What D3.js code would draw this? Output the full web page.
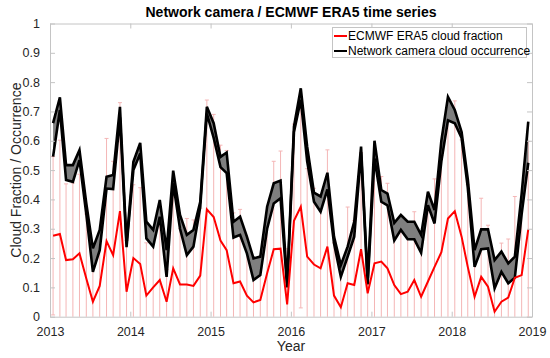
<!DOCTYPE html>
<html>
<head>
<meta charset="utf-8">
<script src="https://cdn.jsdelivr.net/npm/d3@7"></script>
<style>
body { margin: 0; background: #fff; }
text { font-family: "Liberation Sans", Arial, sans-serif; }
</style>
</head>
<body>
<div class="container"></div>
<script>
const width = 550,
    height = 358,
    margin = {top: 23.5, right: 18, bottom: 41.3, left: 50};

// monthly values, Jan 2013 .. Dec 2018
const months = d3.range(72).map(i => new Date(2013, i, 15));

const era5 = [
    0.276, 0.282, 0.193, 0.196, 0.216, 0.130, 0.051, 0.105, 0.258, 0.210, 0.360, 0.085,
    0.200, 0.180, 0.072, 0.100, 0.125, 0.051, 0.165, 0.110, 0.110, 0.105, 0.140, 0.366,
    0.340, 0.260, 0.227, 0.114, 0.120, 0.072, 0.049, 0.057, 0.148, 0.230, 0.232, 0.042,
    0.327, 0.375, 0.205, 0.178, 0.165, 0.239, 0.072, 0.032, 0.114, 0.108, 0.230, 0.080,
    0.182, 0.188, 0.165, 0.108, 0.077, 0.085, 0.125, 0.068, 0.120, 0.170, 0.220, 0.335,
    0.360, 0.273, 0.170, 0.068, 0.136, 0.102, 0.017, 0.051, 0.065, 0.133, 0.142, 0.298
];

const era5Std = [
    0.27, 0.32, 0.26, 0.26, 0.27, 0.22, 0.12, 0.155, 0.35, 0.32, 0.37, 0.175,
    0.25, 0.26, 0.18, 0.18, 0.205, 0.11, 0.285, 0.19, 0.225, 0.225, 0.23, 0.373,
    0.35, 0.325, 0.34, 0.24, 0.246, 0.18, 0.09, 0.11, 0.18, 0.30, 0.333, 0.19,
    0.33, 0.345, 0.30, 0.26, 0.25, 0.33, 0.18, 0.12, 0.26, 0.22, 0.33, 0.12,
    0.33, 0.29, 0.29, 0.21, 0.22, 0.22, 0.233, 0.20, 0.28, 0.30, 0.33, 0.38,
    0.376, 0.33, 0.28, 0.17, 0.268, 0.21, 0.18, 0.20, 0.20, 0.277, 0.25, 0.30
];

const camHigh = [
    0.660, 0.748, 0.517, 0.517, 0.568, 0.386, 0.233, 0.296, 0.477, 0.483, 0.716, 0.250,
    0.528, 0.593, 0.324, 0.296, 0.398, 0.227, 0.498, 0.347, 0.279, 0.296, 0.392, 0.716,
    0.660, 0.545, 0.560, 0.324, 0.341, 0.273, 0.199, 0.205, 0.375, 0.455, 0.464, 0.115,
    0.648, 0.779, 0.580, 0.423, 0.410, 0.491, 0.273, 0.176, 0.239, 0.324, 0.580, 0.125,
    0.600, 0.432, 0.420, 0.320, 0.347, 0.324, 0.324, 0.279, 0.426, 0.364, 0.600, 0.750,
    0.705, 0.630, 0.470, 0.227, 0.298, 0.298, 0.193, 0.222, 0.182, 0.205, 0.420, 0.665
];

const camLow = [
    0.546, 0.705, 0.466, 0.460, 0.534, 0.350, 0.153, 0.227, 0.437, 0.435, 0.680, 0.237,
    0.500, 0.557, 0.267, 0.239, 0.341, 0.136, 0.455, 0.300, 0.210, 0.239, 0.375, 0.693,
    0.610, 0.510, 0.490, 0.270, 0.279, 0.216, 0.125, 0.142, 0.300, 0.386, 0.404, 0.100,
    0.630, 0.740, 0.530, 0.392, 0.358, 0.434, 0.250, 0.136, 0.205, 0.273, 0.560, 0.110,
    0.540, 0.392, 0.380, 0.260, 0.296, 0.264, 0.264, 0.218, 0.380, 0.318, 0.530, 0.670,
    0.660, 0.610, 0.440, 0.170, 0.230, 0.233, 0.097, 0.153, 0.114, 0.133, 0.350, 0.525
];

const yearTicks = d3.range(2013, 2020).map(y => new Date(y, 0, 1));
const yTicks = d3.range(0, 11).map(d => d / 10);

const svg = d3.select('.container')
    .append('svg')
    .attr('width', width)
    .attr('height', height);

const x = d3.scaleTime()
    .domain([new Date(2013, 0, 1), new Date(2019, 0, 1)])
    .range([margin.left, width - margin.right]);

const y = d3.scaleLinear()
    .domain([0, 1])
    .range([height - margin.bottom, margin.top]);

svg.append('clipPath')
    .attr('id', 'plot-clip')
    .append('rect')
    .attr('x', margin.left)
    .attr('y', margin.top)
    .attr('width', width - margin.left - margin.right)
    .attr('height', height - margin.top - margin.bottom);

const plot = svg.append('g').attr('clip-path', 'url(#plot-clip)');

// error bars of the ERA5 series
const bars = plot.append('g')
    .attr('stroke', '#f4b6b6')
    .attr('stroke-width', 1)
    .selectAll('g')
    .data(months)
    .enter()
    .append('g');

bars.append('line')
    .attr('x1', d => x(d))
    .attr('x2', d => x(d))
    .attr('y1', (d, i) => y(era5[i] - era5Std[i]))
    .attr('y2', (d, i) => y(era5[i] + era5Std[i]));

bars.append('line')
    .attr('x1', d => x(d) - 2)
    .attr('x2', d => x(d) + 2)
    .attr('y1', (d, i) => y(era5[i] + era5Std[i]))
    .attr('y2', (d, i) => y(era5[i] + era5Std[i]));

bars.append('line')
    .attr('x1', d => x(d) - 2)
    .attr('x2', d => x(d) + 2)
    .attr('y1', (d, i) => y(era5[i] - era5Std[i]))
    .attr('y2', (d, i) => y(era5[i] - era5Std[i]));

// camera band
plot.append('path')
    .datum(months)
    .attr('fill', '#7f7f7f')
    .attr('d', d3.area()
        .x(d => x(d))
        .y0((d, i) => y(camLow[i]))
        .y1((d, i) => y(camHigh[i])));

[camHigh, camLow].forEach(series => {
    plot.append('path')
        .datum(months)
        .attr('fill', 'none')
        .attr('stroke', '#000')
        .attr('stroke-width', 2.6)
        .attr('stroke-linejoin', 'miter')
        .attr('d', d3.line()
            .x(d => x(d))
            .y((d, i) => y(series[i])));
});

plot.append('path')
    .datum(months)
    .attr('fill', 'none')
    .attr('stroke', '#ff0000')
    .attr('stroke-width', 2)
    .attr('d', d3.line()
        .x(d => x(d))
        .y((d, i) => y(era5[i])));

// axes (box with inward ticks)
const axisColor = '#c4c4c4',
    textColor = '#262626';

function styleAxis(g, showText) {
    g.select('.domain').attr('stroke', axisColor);
    g.selectAll('.tick line').attr('stroke', axisColor);
    g.selectAll('.tick text')
        .attr('fill', textColor)
        .style('font-size', '12.5px')
        .style('display', showText ? null : 'none');
}

svg.append('g')
    .attr('transform', `translate(0,${height - margin.bottom})`)
    .call(d3.axisBottom(x).tickValues(yearTicks).tickFormat(d3.timeFormat('%Y'))
        .tickSizeInner(-5).tickSizeOuter(0).tickPadding(10))
    .call(g => styleAxis(g, true));

svg.append('g')
    .attr('transform', `translate(0,${margin.top})`)
    .call(d3.axisTop(x).tickValues(yearTicks).tickSizeInner(-5).tickSizeOuter(0))
    .call(g => styleAxis(g, false));

svg.append('g')
    .attr('transform', `translate(${margin.left},0)`)
    .call(d3.axisLeft(y).tickValues(yTicks).tickFormat(d => d3.format('~g')(d))
        .tickSizeInner(-5).tickSizeOuter(0).tickPadding(10))
    .call(g => styleAxis(g, true));

svg.append('g')
    .attr('transform', `translate(${width - margin.right},0)`)
    .call(d3.axisRight(y).tickValues(yTicks).tickSizeInner(-5).tickSizeOuter(0))
    .call(g => styleAxis(g, false));

svg.selectAll('.tick text').attr('font-family', null);

// labels
svg.append('text')
    .attr('x', (margin.left + width - margin.right) / 2)
    .attr('y', 17)
    .attr('text-anchor', 'middle')
    .style('font-size', '14px')
    .style('font-weight', 'bold')
    .attr('fill', '#000')
    .text('Network camera / ECMWF ERA5 time series');

svg.append('text')
    .attr('x', (margin.left + width - margin.right) / 2)
    .attr('y', 351)
    .attr('text-anchor', 'middle')
    .style('font-size', '14px')
    .attr('fill', textColor)
    .text('Year');

svg.append('text')
    .attr('transform', `translate(21,${(margin.top + height - margin.bottom) / 2}) rotate(-90)`)
    .attr('text-anchor', 'middle')
    .style('font-size', '14px')
    .attr('fill', textColor)
    .text('Cloud Fraction / Occurrence');

// legend
const legend = svg.append('g').attr('id', 'legend');

legend.append('rect')
    .attr('x', 332.5)
    .attr('y', 27.5)
    .attr('width', 194)
    .attr('height', 30)
    .attr('fill', '#fff')
    .attr('stroke', axisColor);

const legendItems = [
    {label: 'ECMWF ERA5 cloud fraction', color: '#ff0000'},
    {label: 'Network camera cloud occurrence', color: '#000'}
];

legendItems.forEach((item, i) => {
    const ly = 36 + i * 15;
    legend.append('line')
        .attr('x1', 334)
        .attr('x2', 347)
        .attr('y1', ly)
        .attr('y2', ly)
        .attr('stroke', item.color)
        .attr('stroke-width', 2);
    legend.append('text')
        .attr('x', 348)
        .attr('y', ly + 4.3)
        .style('font-size', '12px')
        .attr('fill', '#000')
        .text(item.label);
});
</script>
</body>
</html>
